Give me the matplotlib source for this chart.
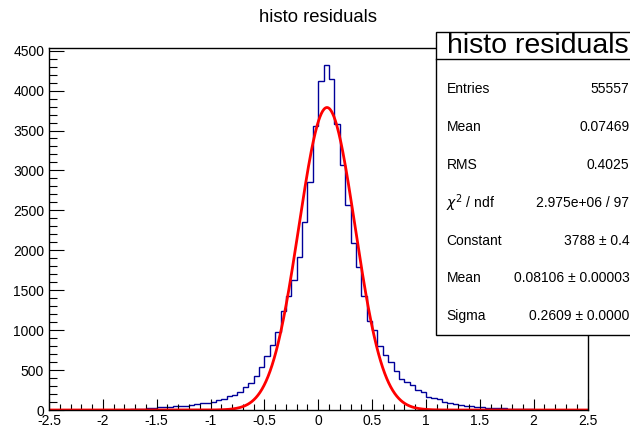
import numpy as np
import matplotlib
matplotlib.use("Agg")
import matplotlib.pyplot as plt
from matplotlib.patches import Rectangle
from matplotlib.lines import Line2D
from matplotlib.ticker import MultipleLocator, FuncFormatter

plt.rcParams['font.family'] = ['Liberation Sans', 'DejaVu Sans']
plt.rcParams['axes.unicode_minus'] = False

# ---- data ----
x_min, x_max, n_bins = -2.5, 2.5, 100
counts = [
    0, 0, 0, 0, 0, 0, 0, 0, 0, 0,
    1, 1, 2, 2, 3, 12, 14, 16, 19, 22,
    35, 38, 42, 45, 52, 56, 62, 70, 82, 92,
    104, 121, 142, 171, 187, 221, 283, 342, 429, 542,
    679, 812, 979, 1246, 1433, 1630, 1920, 2358, 2854, 3554,
    4125, 4321, 4150, 3583, 3062, 2573, 2096, 1794, 1431, 1117,
    1000, 802, 690, 604, 485, 387, 355, 318, 254, 221,
    160, 146, 135, 104, 85, 71, 60, 52, 45, 40,
    32, 28, 25, 22, 20, 18, 15, 13, 12, 10,
    6, 4, 3, 2, 2, 1, 1, 0, 0, 0,
]
fit_constant = 3788
fit_mean = 0.08106
fit_sigma = 0.2609

title = "histo residuals"
stat_labels = ["Entries", "Mean", "RMS", r"$\chi^{2}$ / ndf", "Constant", "Mean", "Sigma"]
stat_values = ["55557", "0.07469", "0.4025", "2.975e+06 / 97",
               "3788 \u00b1 0.4", "0.08106 \u00b1 0.00003", "0.2609 \u00b1 0.0000"]

# ---- figure ----
W, H = 630, 430
fig = plt.figure(figsize=(W / 100, H / 100), dpi=100)

def fx(px):
    return px / W

def fy(py):
    return 1 - py / H

ax = fig.add_axes([fx(49), fy(410), fx(587.5) - fx(49), fy(47.7) - fy(410)])

edges = np.linspace(x_min, x_max, n_bins + 1)
ax.stairs(counts, edges, color='#000099', lw=1.0, baseline=0)

xf = np.linspace(x_min, x_max, 800)
yf = fit_constant * np.exp(-0.5 * ((xf - fit_mean) / fit_sigma) ** 2)
ax.plot(xf, yf, color='#ff0000', lw=2.0)

ax.set_xlim(x_min, x_max)
ax.set_ylim(0, 1.05 * max(counts))

ax.xaxis.set_major_locator(MultipleLocator(0.5))
ax.xaxis.set_minor_locator(MultipleLocator(0.1))
ax.yaxis.set_major_locator(MultipleLocator(500))
ax.yaxis.set_minor_locator(MultipleLocator(100))
ax.xaxis.set_major_formatter(FuncFormatter(lambda v, p: '%g' % v))
ax.yaxis.set_major_formatter(FuncFormatter(lambda v, p: '%g' % v))

ax.tick_params(axis='x', which='major', direction='in', length=8, width=0.8, labelsize=10, pad=3)
ax.tick_params(axis='x', which='minor', direction='in', length=4, width=0.8)
ax.tick_params(axis='y', which='major', direction='in', length=10.8, width=0.8, labelsize=10, pad=3.5)
ax.tick_params(axis='y', which='minor', direction='in', length=5.5, width=0.8)
for s in ax.spines.values():
    s.set_linewidth(1.0)
    s.set_color('black')

fig.text(fx(318), fy(18), title, ha='center', va='center', fontsize=13.3)

# ---- stats box ----
box_left, box_top, box_bottom, box_right = 435.5, 31.7, 335, 645
rect = Rectangle((fx(box_left), fy(box_bottom)), fx(box_right) - fx(box_left),
                 fy(box_top) - fy(box_bottom), transform=fig.transFigure,
                 facecolor='white', edgecolor='black', lw=1.0, zorder=5)
fig.add_artist(rect)
fig.add_artist(Line2D([fx(box_left), fx(box_right)], [fy(59.3), fy(59.3)],
                      transform=fig.transFigure, color='black', lw=1.0, zorder=6))
fig.text(fx(538), fy(46), title, ha='center', va='center', fontsize=20.5, zorder=7)

row_y = [89, 127, 165, 203, 241, 278, 316]
for lab, val, yy in zip(stat_labels, stat_values, row_y):
    fig.text(fx(446.5), fy(yy), lab, ha='left', va='center', fontsize=10, zorder=7)
    fig.text(fx(629.5), fy(yy), val, ha='right', va='center', fontsize=10, zorder=7)

fig.savefig("out.png", dpi=100)
